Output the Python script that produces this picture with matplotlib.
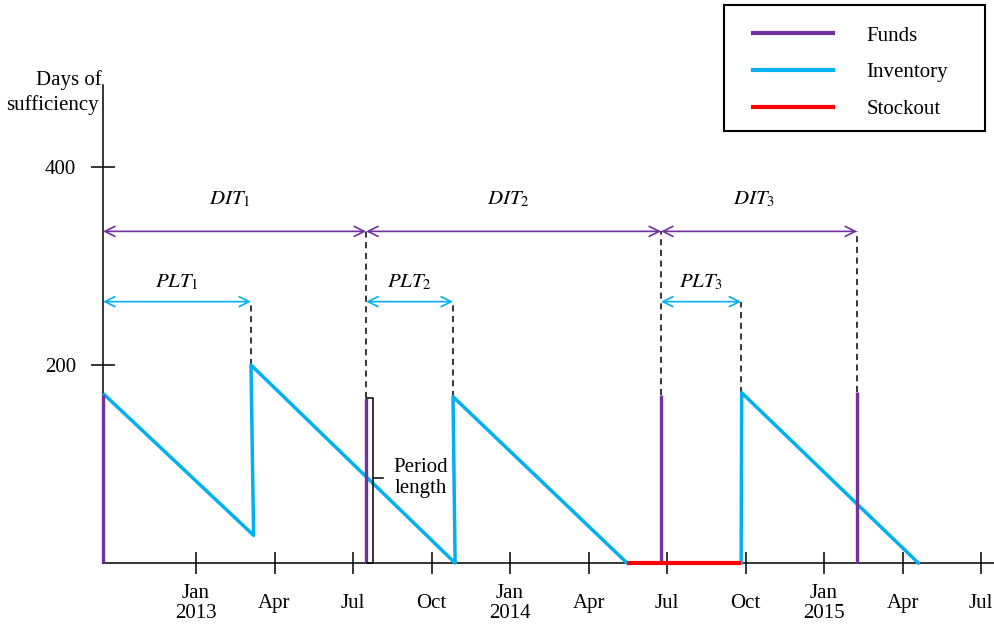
import matplotlib
matplotlib.use("Agg")
import matplotlib.pyplot as plt
from matplotlib.lines import Line2D
from matplotlib.patches import Rectangle

plt.rcParams['font.family'] = ['Liberation Serif', 'DejaVu Serif']
plt.rcParams['mathtext.fontset'] = 'stix'

# x in months, Jan 2013 = 0
tick_pos = [0, 3, 6, 9, 12, 15, 18, 21, 24, 27, 30]
tick_labels = ["Jan\n2013", "Apr", "Jul", "Oct", "Jan\n2014", "Apr", "Jul", "Oct",
               "Jan\n2015", "Apr", "Jul"]

# funds arrive (vertical purple lines)
funds_x = [-3.55, 6.5, 17.77, 25.26]
funds_h = [170, 167, 170, 173]

# inventory (days of sufficiency), two pieces split by the stockout
inv1_x = [-3.5, 2.2, 2.1, 9.9, 9.82, 16.47]
inv1_y = [170, 28, 200, 0, 168, 0]
inv2_x = [20.83, 20.85, 27.6]
inv2_y = [0, 172, 0]

stockout_x = [16.47, 20.83]
stockout_y = [0, 0]

# procurement lead times end when the order arrives
plt_end = [2.1, 9.82, 20.83]
plt_peak = [200, 168, 172]

dit_labels = [r"$DIT_1$", r"$DIT_2$", r"$DIT_3$"]
plt_labels = [r"$PLT_1$", r"$PLT_2$", r"$PLT_3$"]

purple = "#7030A0"
cyan = "#00B0F0"
red = "#FF0000"

fig = plt.figure(figsize=(9.95, 6.35), dpi=100)
ax = fig.add_axes([0, 0, 1, 1])
ax.set_xlim(-7.49, 30.53)
ax.set_ylim(-72.7, 568.7)

# axes lines
for s in ["top", "right"]:
    ax.spines[s].set_visible(False)
ax.spines["left"].set_position(("data", funds_x[0]))
ax.spines["left"].set_bounds(0, 483)
ax.spines["bottom"].set_position(("data", 0))
ax.spines["bottom"].set_bounds(funds_x[0], 30.53)
for s in ["left", "bottom"]:
    ax.spines[s].set_linewidth(1.1)

ax.set_xticks(tick_pos)
ax.set_xticklabels(tick_labels, fontsize=15, linespacing=1.05)
ax.tick_params(axis="x", direction="inout", length=16, width=1.1, pad=21)
for lab in ax.get_xticklabels():
    lab.set_verticalalignment("center")
ax.set_yticks([200, 400])
ax.set_yticklabels(["200", "400"], fontsize=15)
ax.tick_params(axis="y", direction="inout", length=17, width=1.1, pad=11)

# data lines
for x, h in zip(funds_x, funds_h):
    ax.plot([x, x], [0, h], color=purple, lw=2.4, solid_capstyle="butt", zorder=4)
ax.plot(inv1_x, inv1_y, color=cyan, lw=2.5, zorder=3)
ax.plot(inv2_x, inv2_y, color=cyan, lw=2.5, zorder=3)
ax.plot(stockout_x, stockout_y, color=red, lw=3, zorder=5, solid_capstyle="butt")

# DIT arrows
dit_y = 335
for i in range(3):
    x0, x1 = funds_x[i], funds_x[i + 1]
    ax.annotate("", xy=(x1, dit_y), xytext=(x0, dit_y),
                arrowprops=dict(arrowstyle="<->", color=purple, lw=1.2,
                                mutation_scale=18, shrinkA=0, shrinkB=0))
    ax.text((x0 + x1) / 2 - 0.2, 367, dit_labels[i], fontsize=15,
            ha="center", va="center")
    ax.plot([x1, x1], [funds_h[i + 1], dit_y], color="black", lw=1.1,
            ls=(0, (4, 3)), zorder=2)

# PLT arrows
plt_y = 264
for i in range(3):
    x0, x1 = funds_x[i], plt_end[i]
    ax.annotate("", xy=(x1, plt_y), xytext=(x0, plt_y),
                arrowprops=dict(arrowstyle="<->", color=cyan, lw=1.2,
                                mutation_scale=18, shrinkA=0, shrinkB=0))
    ax.text((x0 + x1) / 2, 283, plt_labels[i], fontsize=15,
            ha="center", va="center")
    ax.plot([x1, x1], [plt_peak[i], plt_y], color="black", lw=1.1,
            ls=(0, (4, 3)), zorder=2)

# period length bracket
bx, by0, by1 = 6.76, 0, 167
ax.plot([6.53, bx, bx, 6.53], [by1, by1, by0, by0], color="black", lw=1.1, zorder=5)
ax.plot([bx, 7.15], [86, 86], color="black", lw=1.1, zorder=5)
ax.text(8.6, 86, "Period\nlength", fontsize=15, ha="center", va="center",
        linespacing=1.1)

# y axis title
fig.text(69 / 995, 1 - 80 / 635, "Days of", fontsize=15, ha="center", va="center")
fig.text(52 / 995, 1 - 105 / 635, "sufficiency", fontsize=15, ha="center", va="center")

# legend: entries without frame, box drawn separately
handles = [Line2D([], [], color=purple, lw=3),
           Line2D([], [], color=cyan, lw=3),
           Line2D([], [], color=red, lw=3)]
leg = ax.legend(handles, ["Funds", "Inventory", "Stockout"], loc="upper left",
                bbox_to_anchor=(753 / 995, 1 - 26 / 635), bbox_transform=fig.transFigure,
                fontsize=15, frameon=False, handlelength=3.85,
                handletextpad=1.6, borderpad=0, labelspacing=0.82,
                borderaxespad=0)
fig.add_artist(Rectangle((724 / 995, 1 - 131 / 635), 261 / 995, 126 / 635,
                         transform=fig.transFigure, fill=False,
                         edgecolor="black", linewidth=1.5))

fig.savefig("out.png", dpi=100)
